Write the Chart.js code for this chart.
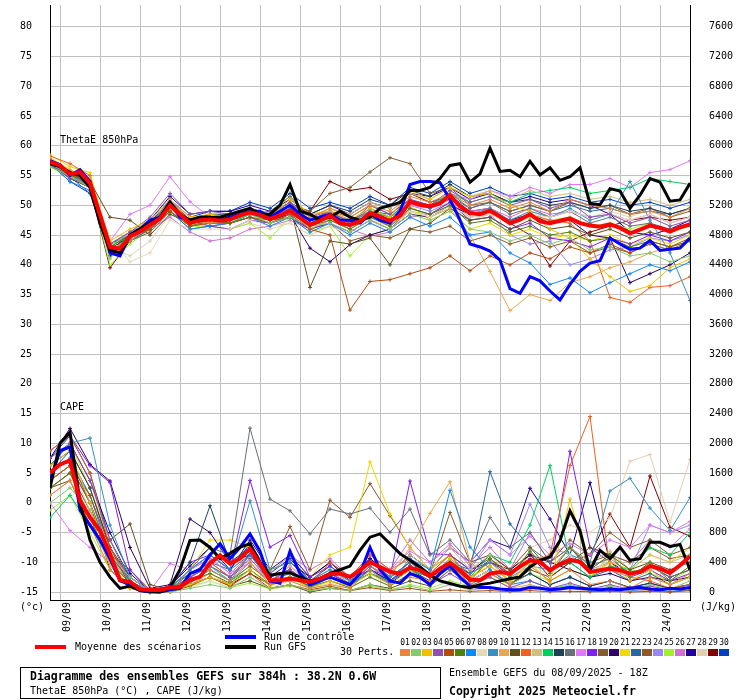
<!DOCTYPE html>
<html lang="fr">
<head>
  <meta charset="UTF-8">
  <title>Diagramme des ensembles GEFS</title>
  <script src="https://cdn.jsdelivr.net/npm/chart.js"></script>
  <style>
    body { margin: 0; background: #fff; }
    canvas { display: block; }
  </style>
</head>
<body>
  <canvas id="gefsChart" width="740" height="700"></canvas>

  <script>
    // Echeances (heures depuis le run du 08/09 18Z)
    const hours6 = [0,6,12,18,24,30,36,42,48,54,60,66,72,78,84,90,96,102,108,114,120,126,132,138,144,150,156,162,168,174,180,186,192,198,204,210,216,222,228,234,240,246,252,258,264,270,276,282,288,294,300,306,312,318,324,330,336,342,348,354,360,366,372,378,384];
    const hours12 = [0,12,24,36,48,60,72,84,96,108,120,132,144,156,168,180,192,204,216,228,240,252,264,276,288,300,312,324,336,348,360,372,384];

    // Jours (00Z) et leurs libelles
    const dayHours = [6,30,54,78,102,126,150,174,198,222,246,270,294,318,342,366];
    const dayLabels = ['09/09','10/09','11/09','12/09','13/09','14/09','15/09','16/09','17/09','18/09','19/09','20/09','21/09','22/09','23/09','24/09'];

    // Graduations
    const thetaTicks = [-15,-10,-5,0,5,10,15,20,25,30,35,40,45,50,55,60,65,70,75,80];
    const capeTicks = [0,400,800,1200,1600,2000,2400,2800,3200,3600,4000,4400,4800,5200,5600,6000,6400,6800,7200,7600];

    // ThetaE 850hPa (°C) : moyenne, controle, GFS (pas de 6h)
    const thetaMean = [57.3,56.7,55.2,55.6,53.7,48.4,43.0,42.7,44.8,45.6,46.7,47.8,50.0,48.5,47.0,47.5,
      47.6,47.4,47.6,48.3,48.8,48.4,47.7,48.3,49.1,47.9,46.7,47.4,48.3,47.0,46.7,47.3,48.7,
      48.1,47.4,48.3,50.6,50.1,49.8,50.3,51.7,
      49.8,48.7,48.5,49.1,48.1,47.0,47.6,48.5,47.3,47.0,47.4,47.8,47.0,46.6,46.4,46.8,46.2,45.3,45.9,46.6,46.2,45.6,46.3,46.8];
    const thetaControl = [57.5,56.8,55.0,56.0,54.0,48.0,42.0,41.5,45.0,46.0,47.5,48.0,50.5,48.0,47.5,48.0,
      48.0,47.5,48.0,48.5,49.0,49.0,48.0,49.0,50.0,48.5,47.5,48.0,48.5,47.5,47.5,47.0,48.5,
      47.5,47.0,49.0,53.5,54.0,54.0,53.8,51.0,
      47.5,43.5,43.0,42.3,40.8,36.0,35.2,38.0,37.3,35.6,34.1,36.7,38.9,40.3,40.7,44.5,43.5,42.6,42.8,44.1,42.4,42.6,42.8,44.5];
    const thetaGfs = [57.0,56.5,55.5,55.0,53.0,47.0,42.5,42.0,45.0,46.0,47.0,48.0,50.5,48.5,47.5,48.0,
      48.0,48.0,48.5,49.0,49.5,48.5,48.5,50.0,53.5,49.0,48.5,47.5,48.0,49.0,48.0,47.5,48.0,
      49.5,50.0,50.5,52.5,52.5,53.0,54.5,56.7,
      57.0,53.9,55.3,59.6,55.7,55.9,54.8,57.4,55.1,56.3,54.2,54.8,56.3,50.3,50.1,52.8,52.4,49.5,51.7,54.5,53.9,50.7,50.9,53.7];

    // CAPE (J/kg) : moyenne, controle, GFS (pas de 6h)
    const capeMean = [1604,1716,1769,1227,1004,827,516,160,138,36,27,27,62,71,160,204,
      390,493,382,449,582,382,160,160,182,160,138,182,240,249,204,293,404,
      338,271,249,329,293,213,316,391,
      293,169,160,249,271,249,343,427,404,293,373,436,404,271,293,316,293,249,271,351,316,258,360,480];
    const capeControl = [1500,1900,1950,1100,900,700,450,150,100,20,0,0,30,50,250,300,
      500,650,450,600,780,550,150,120,550,250,100,150,200,150,100,250,600,
      300,150,120,250,200,100,250,350,
      200,80,60,60,40,30,30,60,50,30,40,60,50,40,30,40,30,50,60,40,30,50,40,60];
    const capeGfs = [1400,2000,2150,1200,700,400,200,50,80,20,10,0,60,300,693,700,
      600,450,520,604,649,400,227,250,260,200,150,180,250,300,350,560,738,
      782,649,516,427,338,227,150,116,
      80,60,100,120,150,180,204,338,427,471,693,1093,827,293,560,449,604,427,449,671,671,613,640,300];

    // ThetaE des 30 perturbations (pas de 12h)
    const th01 = [57.8,55.8,54.2,42.5,44.0,46.5,50.5,47.5,47.0,48.0,49.0, 48.5,50.0,48.0,49.5,48.0,50.0,49.0,51.5,50.5,52.0,50.0, 51.0,49.5,50.5,49.0,51.0,50.0,49.5,48.5,49.0,48.0,49.5];
    const th02 = [56.5,55.0,53.0,41.0,45.0,47.0,49.5,47.0,48.0,47.5,48.5, 47.0,48.0,46.5,47.0,45.5,47.5,46.0,48.5,47.5,49.0,46.0, 45.5,44.0,45.0,43.5,44.5,42.5,43.0,41.5,42.0,40.5,41.5];
    const th03 = [58.0,56.0,54.5,44.0,46.0,47.5,51.0,48.0,48.5,48.0,49.5, 48.0,51.0,48.5,49.0,47.5,49.5,48.0,52.5,51.0,53.0,51.5, 52.0,50.0,49.0,46.0,44.5,41.0,38.0,35.5,36.5,39.5,41.0];
    const th04 = [57.0,54.5,53.5,43.5,45.5,48.0,52.0,48.5,49.0,48.5,49.5, 48.5,50.5,47.5,49.0,47.0,50.0,48.5,51.0,50.0,52.5,50.5, 51.5,50.0,51.0,49.5,50.5,48.0,48.5,47.0,48.0,46.5,47.5];
    const th05 = [57.5,55.5,53.5,42.0,44.5,46.0,49.0,46.5,47.0,47.0,48.0, 47.0,48.5,46.0,45.0,32.4,37.2,37.5,38.5,39.5,41.5,39.0, 41.5,40.0,42.0,41.0,43.0,42.0,43.5,42.0,44.0,43.0,44.5];
    const th06 = [56.8,55.0,54.0,43.0,45.0,46.0,49.0,46.5,47.5,47.0,48.0, 47.5,48.0,46.5,47.5,46.0,48.0,46.5,49.5,48.5,50.0,47.0, 47.5,45.5,46.5,45.0,45.5,44.0,44.5,43.0,44.0,43.0,44.0];
    const th07 = [57.0,54.0,52.5,42.0,44.0,46.0,49.0,46.0,46.5,47.0,48.0, 46.5,48.0,45.5,47.0,45.0,47.0,45.5,48.0,46.5,48.0,45.0, 45.5,42.0,40.3,36.7,37.8,35.3,37.0,38.5,40.0,39.0,40.5];
    const th08 = [57.5,55.5,54.0,44.5,40.5,42.0,47.5,46.0,46.0,46.0,47.5, 46.5,47.0,45.0,46.5,45.0,47.0,46.0,49.0,48.0,50.0,48.0, 48.5,47.0,48.5,48.0,49.0,48.0,48.5,47.5,48.5,47.0,48.0];
    const th09 = [57.2,55.0,53.5,43.5,45.5,47.0,50.5,47.5,48.0,48.5,49.0, 48.0,49.5,47.0,48.5,47.0,49.0,47.5,50.5,49.5,51.5,48.5, 49.5,47.5,49.0,48.0,49.5,47.5,48.5,54.0,47.5,42.0,34.0];
    const th10 = [57.0,54.8,53.0,42.5,44.5,46.0,49.5,46.5,47.0,47.0,48.0, 47.0,48.5,46.0,47.5,46.0,48.0,46.5,49.0,48.0,49.5,45.0, 38.9,32.3,35.0,34.0,37.0,38.0,39.5,40.5,42.0,43.0,44.0];
    const th11 = [57.5,55.0,54.0,48.0,47.5,45.0,48.5,47.0,47.5,47.5,49.0, 48.0,50.0,36.2,44.0,43.5,44.5,40.0,46.0,47.0,49.5,47.5, 48.0,46.0,47.5,46.0,46.5,45.0,46.0,44.5,45.5,44.5,45.5];
    const th12 = [58.3,57.0,55.0,42.5,44.0,46.5,50.0,47.5,47.5,48.0,49.0, 48.0,49.5,47.5,49.0,48.0,50.0,48.5,51.0,49.5,51.0,48.5, 49.0,47.0,48.5,47.5,47.0,44.0,34.5,33.7,36.2,36.5,38.0];
    const th13 = [57.0,55.2,53.8,43.0,45.5,47.5,50.5,48.0,48.0,48.5,49.5, 48.5,50.5,48.0,49.5,48.5,50.5,49.5,52.0,51.0,53.0,51.5, 52.5,51.0,52.5,51.5,52.0,51.0,51.5,50.5,51.0,50.0,51.0];
    const th14 = [57.3,55.5,54.0,43.5,44.5,46.5,49.0,46.5,47.0,47.0,48.5, 47.5,49.0,47.0,48.5,47.0,49.0,48.0,50.5,50.0,52.0,50.5, 51.5,50.5,52.0,52.5,53.0,52.0,52.5,53.0,54.5,54.0,53.5];
    const th15 = [57.0,54.5,53.0,42.5,45.0,47.0,50.0,47.5,48.5,48.5,49.5, 48.5,50.5,48.5,50.0,49.0,51.0,50.0,52.5,51.5,53.5,51.5, 52.0,50.5,51.0,50.0,50.5,49.5,50.0,49.0,49.5,48.5,49.5];
    const th16 = [57.5,55.5,54.5,43.5,45.0,46.5,49.5,47.0,47.5,47.0,48.5, 49.0,51.5,48.0,49.0,47.0,49.5,48.0,51.0,49.5,52.0,49.5, 50.5,48.5,49.5,48.0,49.0,47.0,48.0,46.5,47.0,46.0,47.0];
    const th17 = [57.0,55.0,53.5,44.0,48.5,50.0,54.8,50.6,48.0,47.5,49.0, 48.0,50.0,47.5,49.0,47.5,49.0,48.0,50.0,49.5,52.0,51.0, 52.5,51.5,53.0,52.0,53.5,53.5,54.5,53.0,55.5,56.0,57.5];
    const th18 = [57.8,55.5,53.0,42.0,44.5,46.5,51.0,47.5,46.5,46.0,47.5, 47.0,48.0,46.0,47.0,45.5,47.5,46.0,49.5,48.5,50.5,47.5, 48.0,46.0,47.0,44.5,44.0,43.0,44.5,43.5,45.0,44.0,45.5];
    const th19 = [56.5,55.0,53.0,43.0,45.0,46.0,49.5,47.0,47.5,48.0,49.0, 48.5,50.0,49.0,52.0,53.0,55.6,58.0,57.0,52.0,53.0,50.0, 50.5,49.0,50.0,49.0,50.5,49.5,50.0,48.5,49.5,48.0,49.0];
    const th20 = [57.3,55.3,53.5,42.5,45.0,47.0,50.0,47.0,47.5,47.5,48.5, 47.5,48.5,42.8,40.5,43.4,45.0,46.0,48.5,48.0,50.0,48.5, 49.0,47.5,48.5,47.0,47.5,45.0,44.5,37.0,38.5,40.0,42.0];
    const th21 = [58.5,56.5,55.5,43.5,45.5,47.5,50.5,47.5,48.0,48.0,49.5, 48.5,51.5,48.5,49.0,47.5,49.5,47.0,50.0,47.5,49.0,46.0, 47.0,45.0,46.0,44.5,45.0,44.0,45.0,43.5,44.5,43.5,45.0];
    const th22 = [56.8,54.8,52.0,42.0,45.0,47.0,50.5,47.0,48.0,47.5,48.5, 47.5,48.5,47.0,48.5,47.5,49.0,48.5,51.0,50.0,51.5,49.5, 50.5,49.0,50.0,49.0,50.0,49.0,49.5,48.5,49.0,48.5,49.5];
    const th23 = [57.5,55.5,54.0,43.0,44.0,45.5,49.0,46.0,46.5,47.0,48.0, 47.0,48.0,46.0,47.0,44.0,45.0,44.5,46.0,45.5,46.5,44.0, 45.0,43.5,44.5,43.0,44.0,42.0,43.0,42.0,43.5,42.5,44.0];
    const th24 = [57.0,55.0,53.5,43.0,45.5,47.0,50.0,47.0,47.5,48.0,49.0, 47.5,49.0,47.0,48.0,46.5,48.5,47.5,50.0,49.0,50.5,48.0, 48.5,45.0,43.5,44.0,40.0,41.0,42.5,43.0,44.5,44.0,45.0];
    const th25 = [56.5,54.5,53.0,40.0,43.5,46.0,49.0,46.5,46.5,46.0,47.0, 44.5,48.0,45.5,46.5,41.5,45.0,46.0,49.0,48.5,50.0,48.0, 48.5,47.0,48.0,47.5,48.0,46.5,47.0,46.0,47.0,45.5,46.5];
    const th26 = [57.5,55.5,54.0,43.5,45.0,46.0,48.0,45.5,44.0,44.5,46.0, 46.5,47.5,46.0,47.5,46.0,44.8,45.5,48.0,48.5,50.5,49.0, 49.5,48.0,49.5,48.5,49.0,48.0,48.5,47.5,48.5,47.0,48.0];
    const th27 = [57.5,55.0,53.0,41.5,44.5,47.5,51.5,48.5,49.0,49.0,50.0, 49.0,51.0,48.5,50.0,48.5,50.5,49.5,52.0,51.5,53.0,51.0, 52.0,50.5,51.5,50.5,51.0,50.0,48.5,45.5,45.0,46.0,47.5];
    const th28 = [57.0,55.0,53.5,43.0,41.5,44.0,48.5,47.0,46.5,46.0,47.0, 46.0,47.0,45.0,46.5,45.5,47.5,46.5,49.0,48.0,49.5,47.5, 48.5,47.5,49.0,48.0,49.0,48.0,49.0,48.0,49.5,48.5,49.5];
    const th29 = [57.5,55.5,53.0,39.5,44.0,46.0,49.5,47.0,47.5,47.5,49.0, 48.0,50.0,49.0,54.0,52.5,53.0,51.0,52.0,50.5,51.5,49.0, 49.5,47.0,45.0,39.8,44.0,45.5,46.5,47.5,48.0,47.5,48.0];
    const th30 = [57.0,54.0,52.0,42.0,45.0,47.0,51.0,48.0,49.0,49.0,50.5, 49.5,52.0,49.5,50.5,49.5,51.5,50.0,53.0,52.0,54.0,52.0, 53.0,51.5,52.0,51.0,51.5,50.5,51.0,50.0,50.5,49.5,50.5];

    // CAPE des 30 perturbations (pas de 12h)
    const cp01 = [1300,1500,900,300,100,0,50,150,300,150,400, 100,150,50,100,50,300,100,200,150,400,100, 250,100,350,150,300,100,150,50,200,100,250];
    const cp02 = [1200,1400,1100,500,200,10,0,50,100,50,200, 50,100,20,50,20,100,30,80,20,100,30, 60,20,80,30,100,40,80,30,100,40,150];
    const cp03 = [1700,1900,1200,400,50,0,20,100,200,100,300, 80,200,50,150,80,250,100,300,120,450,200, 350,150,400,120,1250,250,400,150,300,100,200];
    const cp04 = [1800,2000,1500,700,150,0,30,200,350,200,450, 150,300,100,250,100,350,150,300,100,250,80, 200,60,150,50,120,40,100,30,80,30,100];
    const cp05 = [1500,1700,1300,600,80,0,0,80,200,80,250, 50,100,30,80,20,60,20,50,10,30,10, 20,5,20,5,10,5,10,0,10,0,20];
    const cp06 = [1400,1600,1000,400,120,0,40,150,250,120,300, 100,200,80,150,60,200,80,250,100,350,150, 450,200,550,250,600,300,500,200,400,150,350];
    const cp07 = [1600,1800,1300,500,150,0,10,120,300,150,500, 150,250,60,200,80,300,120,450,300,1369,604, 300,100,150,50,80,20,60,20,40,10,30];
    const cp08 = [1500,1700,1100,450,60,0,0,60,150,60,200, 50,150,40,120,50,200,80,250,120,350,150, 300,120,400,200,500,250,450,200,400,150,350];
    const cp09 = [1700,2000,2071,900,200,10,50,300,500,300,1227, 300,400,150,300,150,400,200,350,200,450,250, 400,200,350,300,500,400,1360,1529,1129,827,1271];
    const cp10 = [1300,1500,1000,350,80,0,20,100,250,100,300, 100,200,60,150,80,350,200,600,1058,1484,400, 200,50,100,30,50,10,30,10,20,5,20];
    const cp11 = [1400,1500,900,700,916,100,30,100,200,80,150, 50,100,0,50,20,100,50,150,80,300,100, 250,100,300,200,400,600,500,300,400,300,400];
    const cp12 = [1900,2100,1600,600,150,0,50,200,400,200,500, 150,300,100,400,200,500,300,450,250,500,200, 350,150,400,500,1700,2360,300,200,150,50,100];
    const cp13 = [1600,1800,1300,500,100,0,30,150,300,150,400, 150,350,150,300,150,400,250,500,300,600,300, 500,250,550,300,600,400,550,300,500,400,500];
    const cp14 = [1000,1300,900,400,150,0,40,200,350,150,300, 100,200,80,200,100,250,150,300,200,400,200, 500,400,900,1700,400,200,350,300,600,500,800];
    const cp15 = [1700,1900,1400,600,200,10,60,400,1160,400,600, 200,300,100,200,100,250,120,300,150,350,150, 300,120,250,100,200,80,150,60,120,50,100];
    const cp16 = [1600,1800,1200,500,150,0,50,300,600,500,2204, 1249,1093,782,1116,1050,1129,804,1116,500,700,400, 1004,600,800,400,600,350,450,250,350,200,300];
    const cp17 = [1200,827,600,400,200,20,382,300,450,250,400, 150,350,100,250,150,400,300,550,400,600,400, 700,500,750,500,650,500,700,600,900,800,950];
    const cp18 = [1900,2100,1700,1471,300,0,80,400,500,300,1502, 604,760,200,350,150,300,200,1493,516,500,300, 400,250,450,300,1893,600,400,200,300,150,250];
    const cp19 = [1500,1700,1200,500,100,0,30,150,300,150,350, 150,300,100,250,120,350,200,400,250,1071,400, 500,300,600,400,700,500,800,600,700,500,600];
    const cp20 = [1800,2200,1716,1493,600,50,100,982,800,400,500, 200,400,200,400,150,300,150,350,200,400,250, 500,300,500,400,300,200,250,150,200,150,200];
    const cp21 = [1800,2000,1400,700,150,0,50,300,700,700,600, 300,400,200,500,604,1751,1049,600,300,500,200, 400,150,350,150,300,200,400,300,500,400,600];
    const cp22 = [1600,1900,1400,600,150,0,40,250,400,300,500, 200,300,100,250,100,300,150,350,200,400,300, 1618,916,600,300,400,200,300,150,250,100,200];
    const cp23 = [1400,1600,1100,500,300,30,80,250,400,200,500, 300,880,300,1236,1004,1458,1027,600,300,500,300, 450,250,500,300,600,400,500,400,600,450,500];
    const cp24 = [1500,1700,1200,500,100,0,30,200,350,200,400, 150,300,100,250,100,300,150,400,250,500,300, 700,500,1182,600,500,300,400,300,900,800,900];
    const cp25 = [1100,1300,800,300,80,0,20,80,150,60,120, 40,80,20,60,20,80,30,100,50,150,80, 200,100,250,150,300,200,500,300,250,150,300];
    const cp26 = [1400,1600,1100,450,200,10,60,300,450,250,500, 250,500,300,450,200,500,300,700,400,650,350, 600,300,800,400,600,300,500,400,700,600,850];
    const cp27 = [1700,2000,1500,800,250,10,80,350,600,300,700, 300,500,200,400,200,450,250,500,300,600,400, 700,600,1396,982,500,1471,400,250,350,200,300];
    const cp28 = [1600,1800,1300,550,100,0,30,150,300,150,350, 150,300,150,300,150,400,250,500,300,600,400, 500,300,600,700,900,800,1000,1760,1849,938,1782];
    const cp29 = [1500,1700,1200,300,50,0,20,100,200,100,250, 100,200,80,200,100,250,150,300,200,350,250, 400,300,500,200,400,500,1049,604,1560,871,750];
    const cp30 = [1800,2100,1600,700,200,10,60,300,500,300,650, 250,450,150,350,150,450,200,400,200,350,150, 300,100,250,100,200,80,150,60,120,50,100];

    const thetaPerts = [th01,th02,th03,th04,th05,th06,th07,th08,th09,th10,th11,th12,th13,th14,th15,th16,th17,th18,th19,th20,th21,th22,th23,th24,th25,th26,th27,th28,th29,th30];
    const capePerts = [cp01,cp02,cp03,cp04,cp05,cp06,cp07,cp08,cp09,cp10,cp11,cp12,cp13,cp14,cp15,cp16,cp17,cp18,cp19,cp20,cp21,cp22,cp23,cp24,cp25,cp26,cp27,cp28,cp29,cp30];

    // Couleurs des perturbations (legende 01..30)
    const pertColors = ['#e8843c','#88c870','#f0c000','#9050b0','#b04c10','#508010','#1088f8','#e8d8b8','#3890c0','#e8a850',
      '#605020','#f06020','#d0c080','#00d060','#204058','#687078','#e078f8','#8020f0','#806030','#300068',
      '#f0d800','#2868a0','#905828','#9888f0','#a0f030','#d070d0','#200098','#e0d0b0','#800000','#0040c0'];

    const FONT = '10px "DejaVu Sans Mono", monospace';
    const FONT_BOLD = 'bold 11.5px "DejaVu Sans Mono", monospace';
    const FONT_SMALL = '8px "DejaVu Sans Mono", monospace';

    const pts = (xs, ys) => xs.map((x, i) => ({ x: x, y: ys[i] }));

    function mainLine(label, xs, ys, color, width, axis, order) {
      return { label, data: pts(xs, ys), borderColor: color, borderWidth: width,
        pointRadius: 0, yAxisID: axis, order: order, tension: 0 };
    }

    const datasets = [
      mainLine('Moyenne ThetaE', hours6, thetaMean, '#ff0000', 4, 'y', 0),
      mainLine('Moyenne CAPE', hours6, capeMean, '#ff0000', 4, 'y2', 0),
      mainLine('GFS ThetaE', hours6, thetaGfs, '#000000', 3, 'y', 1),
      mainLine('GFS CAPE', hours6, capeGfs, '#000000', 3, 'y2', 1),
      mainLine('Controle ThetaE', hours6, thetaControl, '#0000ff', 3, 'y', 2),
      mainLine('Controle CAPE', hours6, capeControl, '#0000ff', 3, 'y2', 2)
    ];

    thetaPerts.forEach((serie, i) => {
      datasets.push({ label: 'P' + (i + 1), data: pts(hours12, serie), borderColor: pertColors[i],
        backgroundColor: pertColors[i], borderWidth: 1, pointStyle: 'cross', pointRadius: 2,
        pointBorderWidth: 1, pointBorderColor: pertColors[i], yAxisID: 'y', order: 10 });
    });
    capePerts.forEach((serie, i) => {
      datasets.push({ label: 'C' + (i + 1), data: pts(hours12, serie), borderColor: pertColors[i],
        backgroundColor: pertColors[i], borderWidth: 1, pointStyle: 'cross', pointRadius: 2,
        pointBorderWidth: 1, pointBorderColor: pertColors[i], yAxisID: 'y2', order: 10 });
    });

    // Textes, graduations et legende dessines autour du graphique
    const meteoText = {
      id: 'meteoText',
      beforeDraw(chart) {
        const c = chart.ctx;
        c.save();
        c.fillStyle = '#fff';
        c.fillRect(0, 0, chart.width, chart.height);
        c.restore();
      },
      afterDraw(chart) {
        const c = chart.ctx;
        const xs = chart.scales.x, ys = chart.scales.y, y2 = chart.scales.y2;
        c.save();
        c.fillStyle = '#000';
        c.font = FONT;
        c.textBaseline = 'middle';
        c.textAlign = 'left';

        // graduations gauche (°C) et droite (J/kg)
        thetaTicks.forEach(v => c.fillText(String(v).padStart(2, ' '), 20, ys.getPixelForValue(v)));
        capeTicks.forEach(v => c.fillText(String(v), 709, y2.getPixelForValue(v)));
        c.fillText('(°c)', 20, 607);
        c.fillText('(J/kg)', 700, 607);

        // titres des deux panneaux
        c.fillText('ThetaE 850hPa', 60, 140);
        c.fillText('CAPE', 60, 407);

        // jours
        dayHours.forEach((h, i) => {
          c.save();
          c.translate(xs.getPixelForValue(h) + 7, 602);
          c.rotate(-Math.PI / 2);
          c.textAlign = 'right';
          c.fillText(dayLabels[i], 0, 0);
          c.restore();
        });

        // legende
        c.lineWidth = 4;
        [['#ff0000', 35, 647], ['#0000ff', 225, 637], ['#000000', 225, 647]].forEach(l => {
          c.strokeStyle = l[0];
          c.beginPath();
          c.moveTo(l[1], l[2]);
          c.lineTo(l[1] + 31, l[2]);
          c.stroke();
        });
        c.fillText('Moyenne des scénarios', 75, 647);
        c.fillText('Run de contrôle', 264, 637);
        c.fillText('Run GFS', 264, 647);
        c.fillText('30 Perts.', 340, 652);

        c.font = FONT_SMALL;
        c.textAlign = 'center';
        pertColors.forEach((col, i) => {
          const bx = 400 + i * 11;
          c.fillStyle = '#000';
          c.fillText(String(i + 1).padStart(2, '0'), bx + 5, 643);
          c.fillStyle = col;
          c.fillRect(bx, 649, 10, 7);
        });

        // cartouche
        c.fillStyle = '#000';
        c.strokeStyle = '#000';
        c.lineWidth = 1;
        c.strokeRect(20.5, 667.5, 420, 31);
        c.textAlign = 'left';
        c.font = FONT_BOLD;
        c.fillText('Diagramme des ensembles GEFS sur 384h : 38.2N 0.6W', 30, 677);
        c.fillText('Copyright 2025 Meteociel.fr', 449, 692);
        c.font = FONT;
        c.fillText('ThetaE 850hPa (°C) , CAPE (J/kg)', 30, 691);
        c.fillText('Ensemble GEFS du 08/09/2025 - 18Z', 449, 673);
        c.restore();
      }
    };

    new Chart(document.getElementById('gefsChart'), {
      type: 'line',
      data: { datasets: datasets },
      options: {
        responsive: false,
        animation: false,
        devicePixelRatio: 1,
        events: [],
        layout: { padding: 0 },
        plugins: { legend: { display: false }, tooltip: { enabled: false } },
        scales: {
          x: {
            type: 'linear', min: 0, max: 384,
            afterBuildTicks: s => { s.ticks = dayHours.map(v => ({ value: v })); },
            afterFit: s => { s.height = 100; },
            grid: { color: '#c0c0c0', drawTicks: false },
            border: { color: '#000' },
            ticks: { display: false }
          },
          y: {
            type: 'linear', position: 'left', min: -16.3333, max: 83.6667,
            afterBuildTicks: s => { s.ticks = thetaTicks.map(v => ({ value: v })); },
            afterFit: s => { s.width = 50; },
            grid: { color: '#c0c0c0', drawTicks: false },
            border: { color: '#000' },
            ticks: { display: false }
          },
          y2: {
            type: 'linear', position: 'right', min: -106.667, max: 7893.33,
            afterBuildTicks: s => { s.ticks = capeTicks.map(v => ({ value: v })); },
            afterFit: s => { s.width = 50; },
            grid: { drawOnChartArea: false, drawTicks: false },
            border: { color: '#000' },
            ticks: { display: false }
          }
        }
      },
      plugins: [meteoText]
    });
  </script>
</body>
</html>
